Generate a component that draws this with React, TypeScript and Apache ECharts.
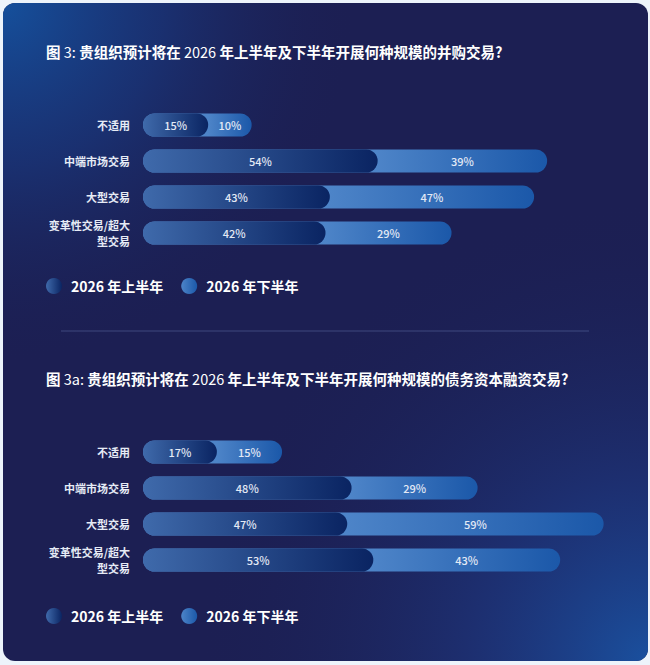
import React, { useEffect, useRef } from "react";
import * as echarts from "echarts";

const categories = ["不适用", "中端市场交易", "大型交易", "变革性交易/超大型交易"];
const legendNames = ["2026 年上半年", "2026 年下半年"];

// 图 3: 并购交易
const maFirstHalf = [15, 54, 43, 42];
const maSecondHalf = [10, 39, 47, 29];

// 图 3a: 债务资本融资交易
const dcmFirstHalf = [17, 48, 47, 53];
const dcmSecondHalf = [15, 29, 59, 43];

const titleTexts = [
  "图 {n|3:} 贵组织预计将在 {n|2026} 年上半年及下半年开展何种规模的并购交易?",
  "图 {n|3a:} 贵组织预计将在 {n|2026} 年上半年及下半年开展何种规模的债务资本融资交易?",
];

const FONT = '"Noto Sans CJK SC", "Noto Sans", sans-serif';
const DARK_L = "#3f6aab";
const DARK_R = "#0a2462";
const LIGHT_L = "#4d84c8";
const LIGHT_R = "#1b58a9";

const darkGrad = () =>
  new echarts.graphic.LinearGradient(0, 0, 1, 0, [
    { offset: 0, color: DARK_L },
    { offset: 1, color: DARK_R },
  ]);

const makeSeries = (first: number[], second: number[], idx: number) => {
  const totals = first.map((v, i) => v + second[i]);
  const common = {
    type: "bar",
    xAxisIndex: idx,
    yAxisIndex: idx,
    barWidth: 23,
    barGap: "-100%",
  };
  const label = {
    show: true,
    position: "inside",
    formatter: "{c}%",
    color: "#e3e9f5",
    fontSize: 11,
    fontWeight: 500,
    fontFamily: FONT,
  };
  return [
    {
      ...common,
      name: legendNames[1],
      itemStyle: {
        borderRadius: 12,
        color: new echarts.graphic.LinearGradient(0, 0, 1, 0, [
          { offset: 0, color: LIGHT_L },
          { offset: 1, color: LIGHT_R },
        ]),
      },
      data: totals.map((t, i) => ({
        value: t,
        itemStyle: {
          color: new echarts.graphic.LinearGradient(0, 0, 1, 0, [
            { offset: 0, color: LIGHT_L },
            { offset: first[i] / t, color: LIGHT_L },
            { offset: 1, color: LIGHT_R },
          ]),
        },
      })),
    },
    {
      ...common,
      name: legendNames[0],
      itemStyle: { borderRadius: 12, color: darkGrad() },
      label,
      data: first,
    },
    {
      ...common,
      name: "pad" + idx,
      stack: "lbl" + idx,
      silent: true,
      itemStyle: { color: "rgba(0,0,0,0)" },
      data: first,
    },
    {
      ...common,
      name: "lbl" + idx,
      stack: "lbl" + idx,
      silent: true,
      itemStyle: { color: "rgba(0,0,0,0)" },
      label,
      data: second,
    },
  ];
};

const App: React.FC = () => {
  const chartRef = useRef<HTMLDivElement>(null);

  useEffect(() => {
    document.body.style.margin = "0";
    if (!chartRef.current) return;
    const chart = echarts.init(chartRef.current, undefined, { renderer: "svg" });

    const titleStyle = {
      color: "#ffffff",
      fontSize: 14.5,
      fontWeight: "bold",
      fontFamily: FONT,
      lineHeight: 17,
      rich: {
        n: { color: "#ffffff", fontSize: 14.5, fontWeight: "normal", fontFamily: FONT },
      },
    };

    const legendBase = {
      data: legendNames,
      left: 46,
      icon: "circle",
      itemWidth: 16,
      itemHeight: 16,
      itemGap: 18,
      padding: 0,
      selectedMode: false,
      textStyle: {
        color: "#ffffff",
        fontSize: 14,
        fontWeight: "bold",
        fontFamily: FONT,
        padding: [0, 0, 0, 4],
      },
    };

    const yAxisBase = {
      type: "category",
      data: categories,
      inverse: true,
      axisLine: { show: false },
      axisTick: { show: false },
      axisLabel: {
        color: "#e6ebf5",
        fontSize: 11,
        fontWeight: "bold",
        fontFamily: FONT,
        margin: 13,
        lineHeight: 16,
        formatter: (v: string) => (v.length > 8 ? v.slice(0, 8) + "\n" + v.slice(8) : v),
      },
    };

    const xAxisBase = { type: "value", min: 0, max: 110, show: false };

    const option = {
      animation: false,
      backgroundColor: "#edf4fb",
      graphic: [
        {
          type: "rect",
          z: -10,
          shape: { x: 3, y: 3, width: 645, height: 658, r: 12 },
          style: { fill: "#1c1f53" },
        },
        {
          type: "rect",
          z: -9,
          shape: { x: 3, y: 3, width: 645, height: 658, r: 12 },
          style: {
            fill: new echarts.graphic.RadialGradient(0, 0, 0.55, [
              { offset: 0, color: "rgba(21,80,156,1)" },
              { offset: 0.45, color: "rgba(24,62,136,0.55)" },
              { offset: 1, color: "rgba(28,31,83,0)" },
            ]),
          },
        },
        {
          type: "rect",
          z: -8,
          shape: { x: 3, y: 3, width: 645, height: 658, r: 12 },
          style: {
            fill: new echarts.graphic.RadialGradient(1, 1, 0.7, [
              { offset: 0, color: "rgba(26,80,158,1)" },
              { offset: 0.4, color: "rgba(30,62,140,0.5)" },
              { offset: 1, color: "rgba(28,31,83,0)" },
            ]),
          },
        },
        {
          type: "line",
          z: -7,
          shape: { x1: 61, y1: 331, x2: 589, y2: 331 },
          style: { stroke: "rgba(130,150,210,0.35)", lineWidth: 1 },
        },
      ],
      title: [
        { text: titleTexts[0], left: 46, top: 43, padding: 0, textStyle: titleStyle },
        { text: titleTexts[1], left: 46, top: 370, padding: 0, textStyle: titleStyle },
      ],
      legend: [
        { ...legendBase, top: 278 },
        { ...legendBase, top: 608 },
      ],
      grid: [
        { left: 143, top: 107, width: 478, height: 144 },
        { left: 143, top: 434, width: 478, height: 144 },
      ],
      xAxis: [
        { ...xAxisBase, gridIndex: 0 },
        { ...xAxisBase, gridIndex: 1 },
      ],
      yAxis: [
        { ...yAxisBase, gridIndex: 0 },
        { ...yAxisBase, gridIndex: 1 },
      ],
      series: [...makeSeries(maFirstHalf, maSecondHalf, 0), ...makeSeries(dcmFirstHalf, dcmSecondHalf, 1)],
    };

    chart.setOption(option);

    return () => {
      chart.dispose();
    };
  }, []);

  return <div ref={chartRef} style={{ width: "650px", height: "665px" }} />;
};

export default App;
